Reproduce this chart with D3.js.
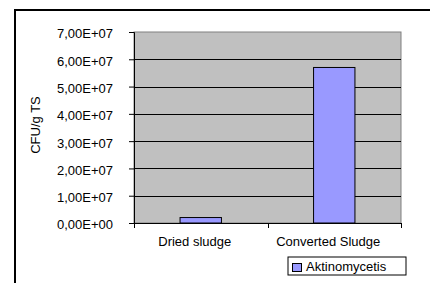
<!DOCTYPE html>
<html>
<head>
<meta charset="utf-8">
<script src="https://cdn.jsdelivr.net/npm/d3@7"></script>
<style>
  body { margin: 0; background: #fff; }
  text { font-family: Arial, "Liberation Sans", sans-serif; font-size: 13px; fill: #000; }
</style>
</head>
<body>
<div id="chart"></div>
<script>
// data
var categories = ["Dried sludge", "Converted Sludge"];
var aktinomycetis = [2.0e6, 5.7e7];
var yTicks = [0, 1e7, 2e7, 3e7, 4e7, 5e7, 6e7, 7e7];
var seriesName = "Aktinomycetis";

var svgWidth = 430, svgHeight = 283;
var margin = { top: 32, right: 29, bottom: 60, left: 134 };
var width = svgWidth - margin.left - margin.right;
var height = svgHeight - margin.top - margin.bottom;

var svg = d3.select("#chart")
  .append("svg")
  .attr("width", svgWidth)
  .attr("height", svgHeight);

// outer chart frame (runs off the page right and bottom)
svg.append("rect")
  .attr("x", 15)
  .attr("y", 10)
  .attr("width", 440)
  .attr("height", 300)
  .attr("fill", "none")
  .attr("stroke", "#000")
  .attr("stroke-width", 2);

var g = svg.append("g")
  .attr("transform", `translate(${margin.left}, ${margin.top})`);

var x = d3.scaleBand()
  .domain(categories)
  .range([0, width])
  .padding(0);

var y = d3.scaleLinear()
  .domain([0, 7e7])
  .range([height, 0]);

// excel style "7,00E+07"
function sciFormat(v) {
  if (v === 0) return "0,00E+00";
  var e = Math.floor(Math.log10(v));
  var m = v / Math.pow(10, e);
  return m.toFixed(2).replace(".", ",") + "E+" + (e < 10 ? "0" + e : e);
}

// plot background
g.append("rect")
  .attr("width", width)
  .attr("height", height)
  .attr("fill", "#c0c0c0")
  .attr("stroke", "#808080")
  .attr("stroke-width", 1);

// gridlines
g.selectAll(".grid")
  .data(yTicks.filter(d => d > 0 && d < 7e7))
  .enter()
  .append("line")
  .attr("x1", 0)
  .attr("x2", width)
  .attr("y1", d => Math.round(y(d)) + 0.5)
  .attr("y2", d => Math.round(y(d)) + 0.5)
  .attr("stroke", "#000")
  .attr("stroke-width", 1);

// bars
var barW = x.bandwidth() * 0.31;
g.selectAll(".bar")
  .data(aktinomycetis)
  .enter()
  .append("rect")
  .attr("x", (d, i) => x(categories[i]) + x.bandwidth() / 2 - barW / 2)
  .attr("y", d => y(d))
  .attr("width", barW)
  .attr("height", d => height - y(d))
  .attr("fill", "#9999ff")
  .attr("stroke", "#000")
  .attr("stroke-width", 1);

// y axis
var leftAxis = d3.axisLeft(y)
  .tickValues(yTicks)
  .tickSize(5)
  .tickPadding(16)
  .tickFormat(sciFormat);

var yAxis = g.append("g").call(leftAxis);
yAxis.select(".domain").attr("stroke", "#000");
yAxis.selectAll("text")
  .attr("dy", "0.45em")
  .style("font-size", "13px")
  .style("font-family", "Arial, 'Liberation Sans', sans-serif");

// x axis line + ticks at category boundaries
g.append("line")
  .attr("x1", 0).attr("x2", width)
  .attr("y1", height + 0.5).attr("y2", height + 0.5)
  .attr("stroke", "#000");

var bounds = [0].concat(categories.map(c => x(c) + x.bandwidth()));
g.selectAll(".xtick")
  .data(bounds)
  .enter()
  .append("line")
  .attr("x1", d => Math.round(d) + 0.5)
  .attr("x2", d => Math.round(d) + 0.5)
  .attr("y1", height)
  .attr("y2", height + 5)
  .attr("stroke", "#000");

g.selectAll(".xlabel")
  .data(categories)
  .enter()
  .append("text")
  .attr("x", d => x(d) + x.bandwidth() / 2 - 6)
  .attr("y", height + 23)
  .attr("text-anchor", "middle")
  .text(d => d);

// y title
svg.append("text")
  .attr("transform", "translate(40, 125) rotate(-90)")
  .attr("text-anchor", "middle")
  .text("CFU/g TS");

// legend
var legend = svg.append("g").attr("transform", "translate(288, 257)");
legend.append("rect")
  .attr("width", 118)
  .attr("height", 18)
  .attr("fill", "#fff")
  .attr("stroke", "#000");
legend.append("rect")
  .attr("x", 4.5).attr("y", 6.5)
  .attr("width", 9).attr("height", 8)
  .attr("fill", "#9999ff")
  .attr("stroke", "#000");
legend.append("text")
  .attr("x", 18)
  .attr("y", 14)
  .text(seriesName);
</script>
</body>
</html>
